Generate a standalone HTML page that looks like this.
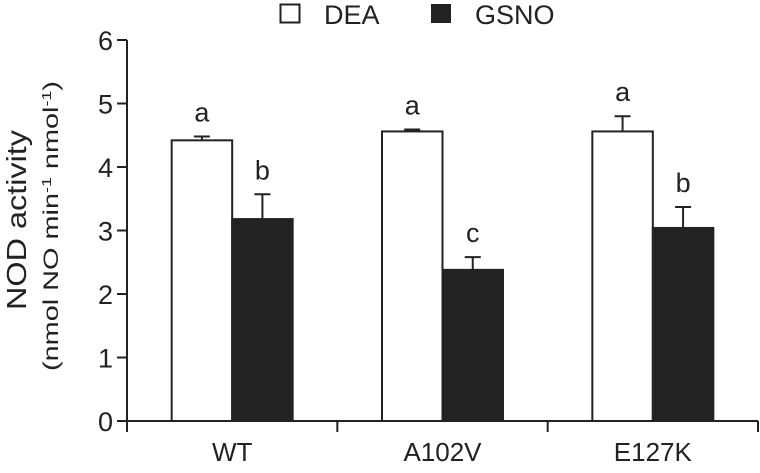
<!DOCTYPE html>
<html><head><meta charset="utf-8"><style>
body{margin:0;background:#fff;}
svg{font-family:"Liberation Sans",sans-serif;}
</style></head><body>
<svg width="760" height="468" viewBox="0 0 760 468">
<g id="legend">
 <rect x="280.5" y="4.5" width="19" height="18" fill="#fff" stroke="#222" stroke-width="2"/>
 <text x="324" y="24" font-size="27" fill="#222">DEA</text>
 <rect x="431" y="4" width="20" height="19" fill="#222"/>
 <text x="475" y="24" font-size="27" fill="#222">GSNO</text>
</g>
<g>
 <text transform="translate(26,220) rotate(-90)" text-anchor="middle" font-size="28" textLength="180" lengthAdjust="spacingAndGlyphs" fill="#222">NOD activity</text>
 <text transform="translate(58,226) rotate(-90)" text-anchor="middle" font-size="21" textLength="290" lengthAdjust="spacingAndGlyphs" fill="#222">(nmol NO min<tspan baseline-shift="super" font-size="13">-1</tspan> nmol<tspan baseline-shift="super" font-size="13">-1</tspan>)</text>
</g>
<g id="plot"></g>
</svg>
<script>
const categories=["WT","A102V","E127K"];
const deaValues=[4.42,4.56,4.56];
const deaErrors=[0.06,0.03,0.24];
const gsnoValues=[3.18,2.38,3.04];
const gsnoErrors=[0.39,0.2,0.33];
const deaLetters=["a","a","a"];
const gsnoLetters=["b","c","b"];
const yTicks=[0,1,2,3,4,5,6];
const NS="http://www.w3.org/2000/svg";
const g=document.getElementById('plot');
const x0=127,x1=758,y0=421,yTop=40,ymax=6;
const y=v=>y0-(y0-yTop)*v/ymax;
const gw=(x1-x0)/categories.length;
const bw=60.5;
function mk(t,a){const e=document.createElementNS(NS,t);for(const k in a)e.setAttribute(k,a[k]);g.appendChild(e);return e;}
function bar(cx,v,err,fill,letter,name){
 const r=mk('rect',{x:cx,y:y(v),width:bw,height:y0-y(v),fill:fill,stroke:'#222','stroke-width':2});
 
 
 const m=cx+bw/2;
 const l=mk('line',{x1:m,x2:m,y1:y(v),y2:y(v+err),stroke:'#222','stroke-width':2});
 
 
 const c=mk('line',{x1:m-8,x2:m+8,y1:y(v+err),y2:y(v+err),stroke:'#222','stroke-width':2});
 
 
 const t=mk('text',{x:m,y:y(v+err)-15,'text-anchor':'middle','font-size':27,fill:'#222'});
 t.textContent=letter;
 
 
}
categories.forEach((c,i)=>{
 const cen=x0+gw*(i+0.5);
 bar(cen-bw,deaValues[i],deaErrors[i],'#fff',deaLetters[i],'dea-'+c.toLowerCase());
 bar(cen,gsnoValues[i],gsnoErrors[i],'#222',gsnoLetters[i],'gsno-'+c.toLowerCase());
 const t=mk('text',{x:cen,y:461,'text-anchor':'middle','font-size':26,fill:'#222'});
 t.textContent=c;
 
 
});
const ya=mk('line',{x1:x0,x2:x0,y1:yTop,y2:y0,stroke:'#222','stroke-width':2});


const xa=mk('line',{x1:x0,x2:x1,y1:y0,y2:y0,stroke:'#222','stroke-width':2});


yTicks.forEach(v=>{
 const tk=mk('line',{x1:x0-10,x2:x0,y1:y(v),y2:y(v),stroke:'#222','stroke-width':2});
 
 
 const t=mk('text',{x:x0-14,y:y(v)+10,'text-anchor':'end','font-size':27,fill:'#222'});
 t.textContent=v;
 
 
});
for(let i=0;i<=categories.length;i++){
 const xx=x0+gw*i;
 const tk=mk('line',{x1:xx,x2:xx,y1:y0,y2:y0+11,stroke:'#222','stroke-width':2});
 
 
}
</script>
</body></html>
